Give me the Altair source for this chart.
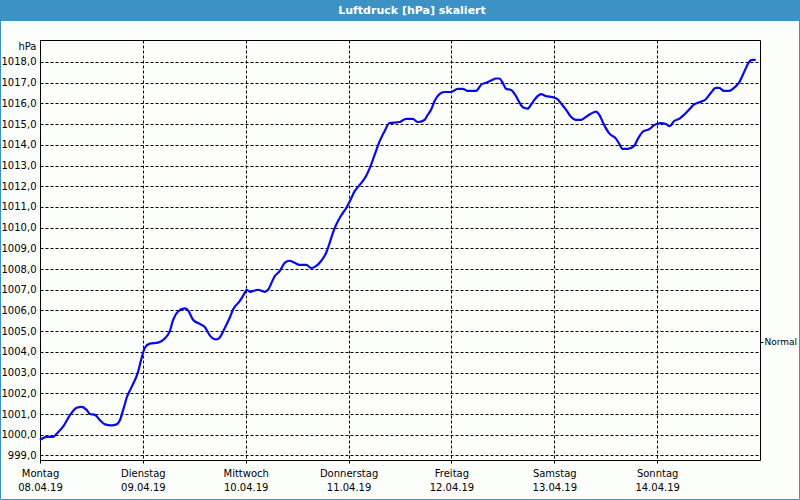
import altair as alt
import pandas as pd

# ---- data (hours since Mon 08.04.19 00:00, pressure in hPa) ----
hours = [0.0, 1.56, 3.10, 3.89, 5.43, 6.99, 8.55, 9.72, 10.88, 11.65, 12.82, 13.98, 15.15,
         16.71, 17.87, 18.64, 19.41, 20.34, 21.37, 22.90, 23.70, 24.47, 25.63, 27.56, 29.13,
         30.29, 31.06, 32.22, 33.79, 34.56, 35.72, 37.28, 38.45, 39.61, 41.17, 41.94, 43.11,
         44.27, 45.04, 46.60, 47.77, 48.16, 49.10, 50.87, 52.43, 53.20, 54.76, 55.92, 57.09,
         58.25, 59.42, 60.58, 62.14, 63.31, 64.47, 65.64, 66.80, 67.57, 68.34, 69.13, 70.30,
         71.46, 72.23, 73.40, 74.56, 76.12, 76.89, 78.06, 79.22, 80.39, 81.55, 83.88, 85.44,
         86.98, 88.15, 89.71, 90.48, 91.27, 92.04, 93.20, 94.37, 95.93, 97.47, 98.63, 99.80,
         101.76, 102.92, 104.09, 105.25, 106.42, 107.18, 107.95, 108.75, 109.91, 111.08,
         111.84, 112.78, 113.78, 114.94, 116.11, 116.90, 118.07, 119.60, 120.77, 121.56,
         122.73, 123.89, 125.06, 126.22, 127.39, 128.55, 129.72, 130.49, 131.65, 132.82,
         134.38, 135.15, 135.91, 137.08, 138.64, 139.41, 140.74, 142.14, 143.30, 144.86,
         146.03, 146.96, 147.96, 149.13, 150.29, 151.46, 152.62, 153.79, 155.35, 156.51,
         157.68, 158.45, 159.61, 160.78, 161.94, 163.11, 164.27, 165.44, 166.21, 167.0]
pressure = [999.75, 999.9, 999.9, 1000.05, 1000.4, 1000.95, 1001.3, 1001.35, 1001.2, 1001.0,
            1000.96, 1000.7, 1000.5, 1000.45, 1000.5, 1000.7, 1001.2, 1001.85, 1002.3, 1003.05,
            1003.7, 1004.2, 1004.4, 1004.45, 1004.65, 1005.0, 1005.55, 1005.95, 1006.1, 1006.0,
            1005.55, 1005.35, 1005.2, 1004.8, 1004.6, 1004.7, 1005.15, 1005.65, 1006.05, 1006.45,
            1006.85, 1007.0, 1006.9, 1007.0, 1006.9, 1007.0, 1007.65, 1007.9, 1008.3, 1008.4,
            1008.3, 1008.2, 1008.2, 1008.05, 1008.15, 1008.4, 1008.8, 1009.25, 1009.75, 1010.15,
            1010.6, 1010.95, 1011.25, 1011.75, 1012.05, 1012.5, 1012.85, 1013.5, 1014.15, 1014.65,
            1015.05, 1015.1, 1015.25, 1015.25, 1015.1, 1015.2, 1015.45, 1015.7, 1016.1, 1016.45,
            1016.55, 1016.55, 1016.7, 1016.7, 1016.6, 1016.6, 1016.9, 1017.0, 1017.1, 1017.2,
            1017.2, 1017.0, 1016.7, 1016.65, 1016.35, 1016.05, 1015.8, 1015.75, 1016.05, 1016.35,
            1016.45, 1016.35, 1016.3, 1016.2, 1016.0, 1015.7, 1015.35, 1015.2, 1015.2, 1015.35,
            1015.5, 1015.6, 1015.45, 1014.95, 1014.55, 1014.3, 1014.05, 1013.8, 1013.8, 1013.95,
            1014.25, 1014.65, 1014.75, 1014.95, 1015.05, 1015.0, 1014.9, 1015.15, 1015.25,
            1015.45, 1015.7, 1015.95, 1016.05, 1016.2, 1016.5, 1016.75, 1016.75, 1016.6, 1016.6,
            1016.75, 1017.0, 1017.5, 1018.0, 1018.1, 1018.1]

day_names = ["Montag", "Dienstag", "Mittwoch", "Donnerstag", "Freitag", "Samstag", "Sonntag"]
day_dates = ["08.04.19", "09.04.19", "10.04.19", "11.04.19", "12.04.19", "13.04.19", "14.04.19"]
day_ticks = [0, 24, 48, 72, 96, 120, 144]
y_ticks = list(range(999, 1019))
normal_value = [1004.5]
title_text = "Luftdruck [hPa] skaliert"

df = pd.DataFrame({"h": hours, "p": pressure})

FONT = "DejaVu Sans"
BLUE = "#3d92c5"
W, H = 720, 420
PAD = 40

label_list = "[" + ",".join("['%s','%s']" % (n, d) for n, d in zip(day_names, day_dates)) + "]"
x_label_expr = label_list + "[round(datum.value/24)]"

x_scale = alt.Scale(domain=[0, 168], nice=False, zero=False)
y_scale = alt.Scale(domain=[998.78, 1019.06], nice=False, zero=False)

x_axis = alt.Axis(values=day_ticks, labelExpr=x_label_expr, title=None,
                  grid=True, gridColor="#000", gridDash=[3, 2], gridWidth=1,
                  gridOpacity=1, domain=False, ticks=True, tickSize=3,
                  tickColor="#000", tickDash=[3, 2], labelPadding=5,
                  labelFont=FONT, labelFontSize=10, labelColor="#000",
                  labelLineHeight=14, labelBaseline="top",
                  labelOverlap=False, labelFlush=False)

line = alt.Chart(df).mark_line(color="#0808e8", strokeWidth=2.2, interpolate="monotone").encode(
    x=alt.X("h:Q", scale=x_scale, axis=x_axis),
    y=alt.Y("p:Q", scale=y_scale,
            axis=alt.Axis(values=y_ticks,
                          labelExpr="replace(format(datum.value, '.1f'), '.', ',')",
                          grid=True, gridColor="#000", gridDash=[3, 2], gridWidth=1,
                          gridOpacity=1, domain=False, ticks=False, labelPadding=4,
                          labelFont=FONT, labelFontSize=10, labelColor="#000",
                          title="hPa", titleAngle=0, titleAlign="right",
                          titleBaseline="middle", titleX=-4, titleY=6,
                          titleFont=FONT, titleFontSize=10, titleFontWeight="normal",
                          titleColor="#000"))
)

normal_df = pd.DataFrame({"h": [0.0], "p": normal_value})
normal_axis = alt.Chart(normal_df).mark_point(opacity=0).encode(
    x=alt.X("h:Q", scale=x_scale, axis=x_axis),
    y=alt.Y("p:Q", scale=y_scale,
            axis=alt.Axis(orient="right", values=normal_value, labelExpr="'Normal'",
                          grid=False, domain=False, ticks=True, tickSize=3,
                          tickColor="#000", labelPadding=1, labelFont=FONT,
                          labelFontSize=9, labelColor="#000", title=None))
)

tdf = pd.DataFrame({"t": [title_text]})
title_bar = alt.Chart(tdf).mark_rect(color=BLUE).encode(
    x=alt.value(-PAD), x2=alt.value(W + PAD), y=alt.value(-PAD), y2=alt.value(-PAD + 21))
title_txt = alt.Chart(tdf).mark_text(color="white", font=FONT, fontSize=11, fontWeight="bold",
                                     align="center", baseline="middle").encode(
    text="t:N", x=alt.value(372), y=alt.value(-PAD + 10.5))
frame = alt.Chart(tdf).mark_rect(filled=False, stroke=BLUE, strokeWidth=1).encode(
    x=alt.value(-PAD + 0.5), x2=alt.value(W + PAD - 0.5),
    y=alt.value(-PAD + 0.5), y2=alt.value(H + PAD - 0.5))

chart = alt.layer(line, normal_axis, title_bar, title_txt, frame).resolve_scale(
    y="independent"
).properties(
    width=W, height=H, autosize="none",
    padding={"left": PAD, "top": PAD, "right": PAD, "bottom": PAD},
    background="#fcfefc",
).configure_view(stroke="#000", strokeWidth=1)

chart.save("out.html", embed_options={"renderer": "svg", "actions": False})
